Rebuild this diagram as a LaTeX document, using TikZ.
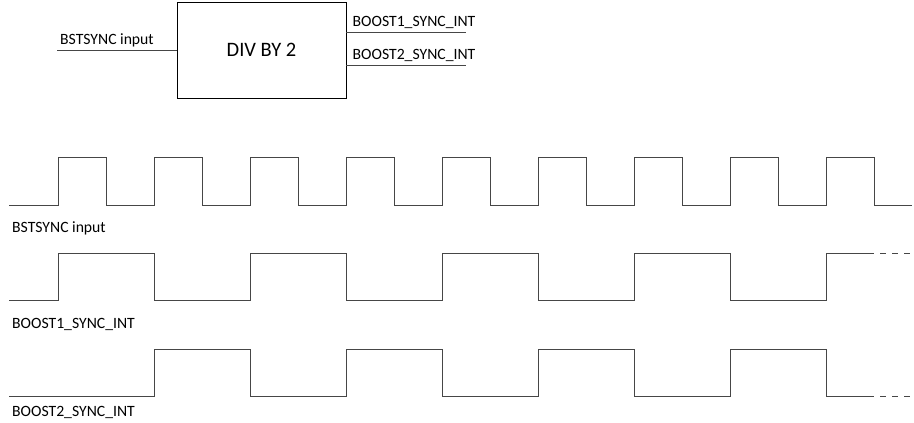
\documentclass[tikz,border=0pt]{standalone}
\usepackage{fontspec}
\setmainfont{Carlito}
\usepackage{tikz}
\usetikzlibrary{positioning, calc}
\definecolor{wiregray}{RGB}{70,70,70}

\begin{document}
\begin{tikzpicture}[x=1pt, y=-1pt, font=\fontsize{15.7}{18}\selectfont,
    lbl/.style={anchor=base west, inner sep=0pt},
    wire/.style={draw=wiregray, line width=0.9pt},
    tail/.style={wire, dash pattern=on 6pt off 6pt, dash phase=6pt}]
                \useasboundingbox (0,0) rectangle (914,423);
                % divider block
                \node[draw, line width=0.9pt, minimum width=169pt, minimum height=96pt,
                      font=\fontsize{20.5}{24}\selectfont] (div) at (261.5,50) {DIV BY 2};
                \coordinate (bstin) at (57,50);
                \coordinate (bo1) at (466,32);
                \coordinate (bo2) at (466,65);
                \draw[wire] (bstin) -- (div.west);
                \draw[wire] (div.east |- bo1) -- (bo1);
                \draw[wire] (div.east |- bo2) -- (bo2);
                \node[lbl] (bstinlbl) at (60,44) {BSTSYNC input};
                \node[lbl] (bo1lbl) at (352.5,26.7) {BOOST1\_SYNC\_INT};
                \node[lbl] (bo2lbl) at (352.5,59.3) {BOOST2\_SYNC\_INT};
                % BSTSYNC input clock
                \draw[wire] (9,205) foreach \k in {0,...,8} { -| ({58+96*\k},157) -| ({106+96*\k},205) } -- (912,205);
                \node[lbl] (clklbl) at (12,232.3) {BSTSYNC input};
                % BOOST1_SYNC_INT
                \draw[wire] (9,300) foreach \k in {0,...,3} { -| ({58+192*\k},253) -| ({154+192*\k},300) } -| (826,253) -- (874,253);
                \draw[tail] (874,253) -- (912,253);
                \node[lbl] (b1lbl) at (12,328.4) {BOOST1\_SYNC\_INT};
                % BOOST2_SYNC_INT
                \draw[wire] (9,396) foreach \k in {0,...,3} { -| ({154+192*\k},349) -| ({250+192*\k},396) } -- (874,396);
                \draw[tail] (874,396) -- (912,396);
                \node[lbl] (b2lbl) at (12,416.7) {BOOST2\_SYNC\_INT};
            \end{tikzpicture}
\end{document}
